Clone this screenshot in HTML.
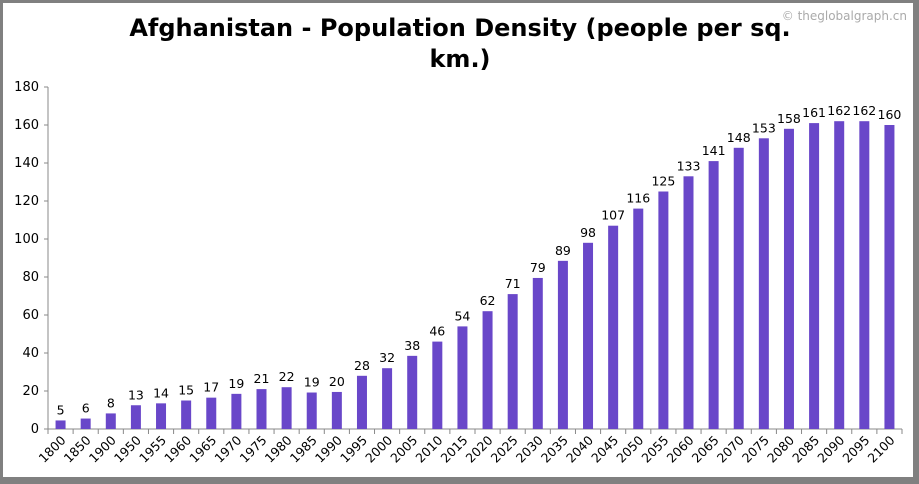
<!DOCTYPE html>
<html><head><meta charset="utf-8"><style>
html,body{margin:0;padding:0;}
body{width:919px;height:484px;overflow:hidden;background:#fff;font-family:Verdana,"DejaVu Sans",sans-serif;}
#frame{position:absolute;left:0;top:0;width:919px;height:484px;box-sizing:border-box;border:3px solid #808080;border-right-width:6px;border-bottom-width:7px;}
</style></head><body>
<div id="frame"></div>
<svg id="chart" width="919" height="484" style="position:absolute;left:0;top:0">
<text x="460" y="36" text-anchor="middle" font-size="24" font-weight="bold" font-family="Verdana,'DejaVu Sans',sans-serif">Afghanistan - Population Density (people per sq.</text>
<text x="460" y="67" text-anchor="middle" font-size="24" font-weight="bold" font-family="Verdana,'DejaVu Sans',sans-serif">km.)</text>
<text x="907" y="20" text-anchor="end" font-size="12" fill="#aaa">© theglobalgraph.cn</text>
<g id="plot"></g>
</svg>
<script>
const years=["1800","1850","1900","1950","1955","1960","1965","1970","1975","1980","1985","1990","1995","2000","2005","2010","2015","2020","2025","2030","2035","2040","2045","2050","2055","2060","2065","2070","2075","2080","2085","2090","2095","2100"];
const values=[4.5,5.5,8.2,12.5,13.5,15,16.5,18.5,21,22,19.2,19.5,28,32,38.5,46,54,62,71,79.5,88.5,98,107,116,125,133,141,148,153,158,161,162,162,160];
const labels=["5","6","8","13","14","15","17","19","21","22","19","20","28","32","38","46","54","62","71","79","89","98","107","116","125","133","141","148","153","158","161","162","162","160"];
const yTicks=[0,20,40,60,80,100,120,140,160,180];
const NS="http://www.w3.org/2000/svg";
const g=document.getElementById('plot');
const X0=48,X1=902,Y0=429,Y1=87,YMAX=180;
const n=years.length, cw=(X1-X0)/n;
const y=v=>Y0-(v/YMAX)*(Y0-Y1);
const xc=i=>X0+cw*(i+0.5);
function mk(t,a){const e=document.createElementNS(NS,t);for(const k in a)e.setAttribute(k,a[k]);g.appendChild(e);return e;}
let ax=mk('line',{x1:X0,y1:Y1,x2:X0,y2:Y0,stroke:'#888'});


let bx=mk('line',{x1:X0,y1:Y0,x2:X1,y2:Y0,stroke:'#888'});


yTicks.forEach(t=>{
  const tk=mk('line',{x1:X0-4,y1:y(t),x2:X0,y2:y(t),stroke:'#888'});
  
  
  const tx=mk('text',{x:X0-9,y:y(t)+4,'text-anchor':'end','font-size':13});
  tx.textContent=t;
  
  
});
for(let i=0;i<=n;i++){
  const tk=mk('line',{x1:X0+cw*i,y1:Y0,x2:X0+cw*i,y2:Y0+5,stroke:'#888'});
  
  
}
years.forEach((c,i)=>{
  const v=values[i];
  const r=mk('rect',{x:xc(i)-5,y:y(v),width:10,height:Y0-y(v),fill:'#6947c9'});
  
  
  const l=mk('text',{x:xc(i),y:y(v)-6,'text-anchor':'middle','font-size':12.5});
  l.textContent=labels[i];
  
  
  const xl=mk('text',{x:xc(i)+6,y:Y0+12,'text-anchor':'end','font-size':12.5,transform:`rotate(-45 ${xc(i)+6} ${Y0+12})`});
  xl.textContent=c;
  
  
});
</script>
</body></html>
